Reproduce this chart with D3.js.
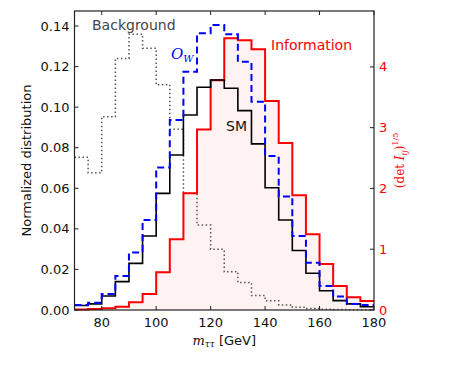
<!DOCTYPE html>
<html>
<head>
<meta charset="utf-8">
<script src="https://cdn.jsdelivr.net/npm/d3@7"></script>
<style>
  body { margin: 0; background: #fff; }
  svg text { font-family: "DejaVu Sans", sans-serif; }
  svg .serif { font-family: "DejaVu Serif", serif; }
</style>
</head>
<body>
<svg id="chart" width="449" height="374"></svg>
<script>
// bin edges, 5 GeV wide from 70 to 180
const binEdges = d3.range(70, 181, 5);

// normalized distributions (left axis)
const background = [0.0753, 0.0677, 0.0953, 0.124, 0.136, 0.129, 0.111, 0.0891, 0.0575, 0.0419, 0.0299,
                    0.0189, 0.0135, 0.0071, 0.0046, 0.0025, 0.0013, 0.0007, 0.0004, 0.0002, 0.0001, 0.0001];
const smDist = [0.0022, 0.0030, 0.0069, 0.0140, 0.0230, 0.0365, 0.0575, 0.0764, 0.0961, 0.1098, 0.1134,
                0.1093, 0.0983, 0.0819, 0.0603, 0.0444, 0.0293, 0.0181, 0.0095, 0.0046, 0.0030, 0.0016];
const owDist = [0.0025, 0.0036, 0.0079, 0.0168, 0.0283, 0.0444, 0.0702, 0.0937, 0.1175, 0.1364, 0.1405,
                0.1359, 0.1224, 0.1027, 0.0759, 0.0559, 0.0365, 0.0233, 0.0118, 0.0066, 0.0030, 0.0025];
// information, (det I_ij)^(1/5) (right axis)
const information = [0.01, 0.015, 0.03, 0.055, 0.126, 0.263, 0.62, 1.163, 1.92, 2.97, 3.78,
                     4.47, 4.44, 4.29, 3.44, 2.75, 1.89, 1.245, 0.757, 0.395, 0.209, 0.148];

const xTicks = [80, 100, 120, 140, 160, 180];
const yTicks = [0, 0.02, 0.04, 0.06, 0.08, 0.10, 0.12, 0.14];
const y2Ticks = [0, 1, 2, 3, 4];

const margin = { left: 74.5, right: 75, top: 11, bottom: 64 };
const W = 449, H = 374;
const svg = d3.select('#chart');

const x = d3.scaleLinear().domain([70, 180]).range([margin.left, W - margin.right]);
const y = d3.scaleLinear().domain([0, 0.1474]).range([H - margin.bottom, margin.top]);
const y2 = d3.scaleLinear().domain([0, 4.92]).range([H - margin.bottom, margin.top]);

function stepPoints(vals) {
    let pts = vals.map((v, i) => [binEdges[i], v]);
    pts.push([binEdges[binEdges.length - 1], vals[vals.length - 1]]);
    return pts;
}

const g = svg.append('g');

// information histogram, filled
let infoPts = stepPoints(information);
g.append('path')
    .attr('d', d3.area().curve(d3.curveStepAfter)
        .x(d => x(d[0])).y0(y2(0)).y1(d => y2(d[1]))(infoPts))
    .attr('fill', 'rgb(255,242,242)');

function drawStep(vals, scale, opts) {
    g.append('path')
        .attr('d', d3.line().curve(d3.curveStepAfter)
            .x(d => x(d[0])).y(d => scale(d[1]))(stepPoints(vals)))
        .attr('fill', 'none')
        .attr('stroke', opts.color)
        .attr('stroke-width', opts.width)
        .attr('stroke-dasharray', opts.dash || null);
}

drawStep(background, y, { color: '#555', width: 1.5, dash: '1.5,2.5' });
drawStep(information, y2, { color: 'red', width: 2 });
drawStep(smDist, y, { color: 'black', width: 1.6 });
drawStep(owDist, y, { color: 'blue', width: 2, dash: '7,4' });

// frame
const x0 = x(70), x1 = x(180), yb = y(0), yt = margin.top;
svg.append('rect')
    .attr('x', x0).attr('y', yt).attr('width', x1 - x0).attr('height', yb - yt)
    .attr('fill', 'none').attr('stroke', '#222').attr('stroke-width', 1.2);

// ticks (inward)
const tk = 4;
const axes = svg.append('g').attr('stroke', '#222').attr('stroke-width', 1);
xTicks.forEach(t => {
    axes.append('line').attr('x1', x(t)).attr('x2', x(t)).attr('y1', yb).attr('y2', yb - tk);
    axes.append('line').attr('x1', x(t)).attr('x2', x(t)).attr('y1', yt).attr('y2', yt + tk);
});
yTicks.forEach(t => {
    axes.append('line').attr('x1', x0).attr('x2', x0 + tk).attr('y1', y(t)).attr('y2', y(t));
});
y2Ticks.forEach(t => {
    axes.append('line').attr('x1', x1).attr('x2', x1 - tk).attr('y1', y2(t)).attr('y2', y2(t));
});

// tick labels
const fs = 13;
svg.append('g').selectAll('text').data(xTicks).join('text')
    .attr('x', d => x(d)).attr('y', yb + 17)
    .attr('text-anchor', 'middle').attr('font-size', fs).attr('fill', '#111')
    .text(d => d);
svg.append('g').selectAll('text').data(yTicks).join('text')
    .attr('x', x0 - 5).attr('y', d => y(d) + 4.5)
    .attr('text-anchor', 'end').attr('font-size', fs).attr('fill', '#111')
    .text(d => d3.format('.2f')(d));
svg.append('g').selectAll('text').data(y2Ticks).join('text')
    .attr('x', x1 + 5).attr('y', d => y2(d) + 4.5)
    .attr('text-anchor', 'start').attr('font-size', fs).attr('fill', 'red')
    .text(d => d);

// axis titles
svg.append('text')
    .attr('transform', `translate(31,${(yt + yb) / 2}) rotate(-90)`)
    .attr('text-anchor', 'middle').attr('font-size', 13).attr('fill', '#111')
    .text('Normalized distribution');

const xl = svg.append('text').attr('x', (x0 + x1) / 2).attr('y', 345)
    .attr('text-anchor', 'middle').attr('font-size', 13).attr('fill', '#111');
xl.append('tspan').attr('class', 'serif').attr('font-style', 'italic').text('m');
xl.append('tspan').attr('class', 'serif').attr('font-style', 'italic')
    .attr('font-size', 9).attr('dy', 2).text('ττ');
xl.append('tspan').attr('dy', -2).text(' [GeV]');

const yl2 = svg.append('text').attr('class', 'serif')
    .attr('transform', `translate(404,${(yt + yb) / 2}) rotate(-90)`)
    .attr('text-anchor', 'middle').attr('font-size', 12).attr('fill', 'red');
yl2.append('tspan').text('(det ');
yl2.append('tspan').attr('font-style', 'italic').text('I');
yl2.append('tspan').attr('font-style', 'italic').attr('font-size', 8).attr('dy', 3).text('ij');
yl2.append('tspan').attr('dy', -3).text(')');
yl2.append('tspan').attr('font-size', 8).attr('dy', -6).text('1/5');

// annotations
svg.append('text').attr('x', 92).attr('y', 30).attr('font-size', 14).attr('fill', '#444').text('Background');
svg.append('text').attr('x', 271).attr('y', 50).attr('font-size', 14).attr('fill', 'red').text('Information');
svg.append('text').attr('x', 226).attr('y', 131).attr('font-size', 14).attr('fill', '#111').text('SM');
const ow = svg.append('text').attr('class', 'serif').attr('x', 171).attr('y', 59).attr('fill', 'blue')
    .attr('font-style', 'italic').attr('font-size', 15);
ow.append('tspan').text('O');
ow.append('tspan').attr('font-size', 10).attr('dy', 3).text('W');
</script>
</body>
</html>
